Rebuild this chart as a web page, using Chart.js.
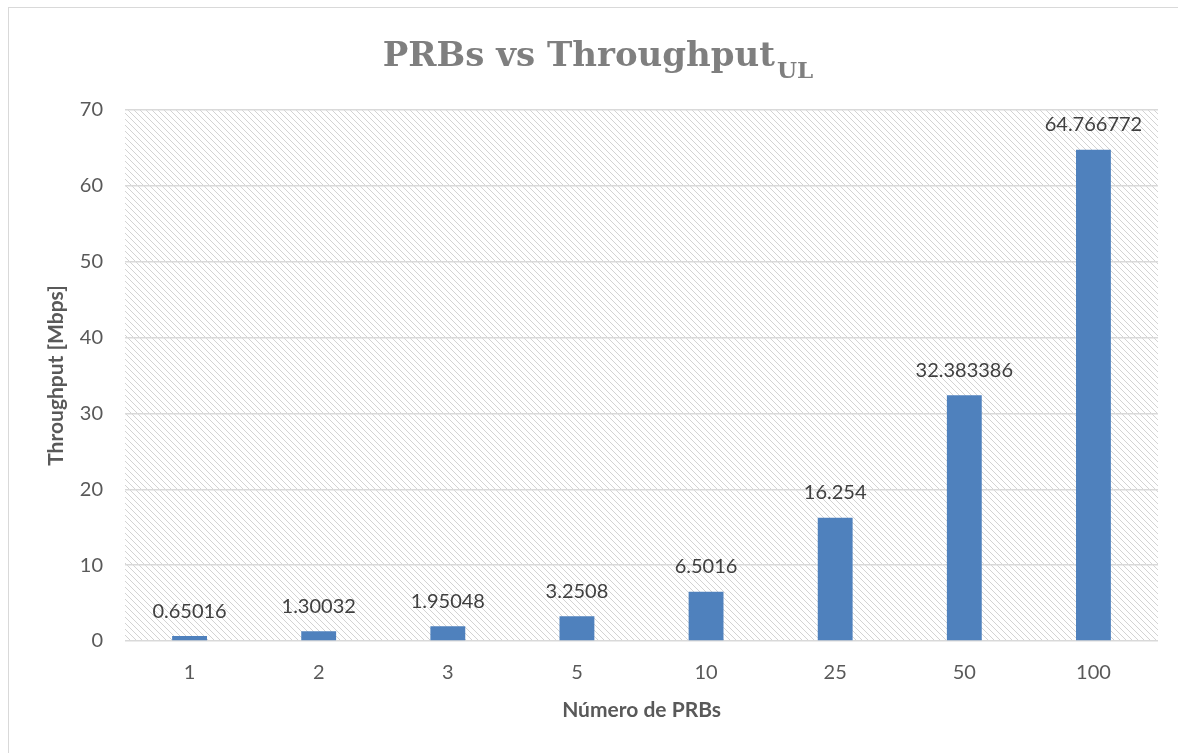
<!DOCTYPE html>
<html>
<head>
<meta charset="utf-8">
<script src="https://cdn.jsdelivr.net/npm/chart.js@4.4.0/dist/chart.umd.min.js"></script>
<style>
  html, body { margin: 0; padding: 0; background: #fff; overflow: hidden; }
  #wrap { position: relative; width: 1178px; height: 753px; }
  #frame { position: absolute; left: 8px; top: 7px; width: 1200px; height: 800px; border: 1px solid #d9d9d9; box-sizing: border-box; }
  canvas { position: absolute; left: 0; top: 0; }
</style>
</head>
<body>
<div id="wrap">
  <div id="frame"></div>
  <canvas id="chart" width="1178" height="753"></canvas>
</div>
<script>
// données
var categories = ['1', '2', '3', '5', '10', '25', '50', '100'];
var throughputValues = [0.65016, 1.30032, 1.95048, 3.2508, 6.5016, 16.254, 32.383386, 64.766772];
var valueLabels = ['0.65016', '1.30032', '1.95048', '3.2508', '6.5016', '16.254', '32.383386', '64.766772'];
var yTicks = [0, 10, 20, 30, 40, 50, 60, 70];

// motif hachuré du fond de la zone de tracé
function makeHatch() {
    var c = document.createElement('canvas');
    c.width = 6; c.height = 6;
    var g = c.getContext('2d');
    g.fillStyle = '#d3d3d3';
    for (var i = 0; i < 6; i++) {
        g.fillRect(i, i, 1, 1);
    }
    return g.createPattern(c, 'repeat');
}

var hatchPlugin = {
    id: 'hatch',
    beforeDraw: function(chart) {
        var a = chart.chartArea, ctx = chart.ctx;
        ctx.save();
        ctx.fillStyle = makeHatch();
        ctx.fillRect(a.left, a.top, a.right - a.left, a.bottom - a.top);
        ctx.restore();
    }
};

// titre avec indice "UL"
var titlePlugin = {
    id: 'titleSub',
    afterDraw: function(chart) {
        var ctx = chart.ctx;
        ctx.save();
        ctx.fillStyle = '#7f7f7f';
        ctx.textBaseline = 'alphabetic';
        ctx.font = 'bold 34px "DejaVu Serif"';
        var main = 'PRBs vs Throughput';
        var w1 = ctx.measureText(main).width;
        ctx.font = 'bold 23px "DejaVu Serif"';
        var w2 = ctx.measureText('UL').width;
        var total = w1 + 2 + w2;
        var x0 = 598 - total / 2;
        ctx.font = 'bold 34px "DejaVu Serif"';
        ctx.fillText(main, x0, 66);
        ctx.font = 'bold 23px "DejaVu Serif"';
        ctx.fillText('UL', x0 + w1 + 2, 78);
        ctx.restore();
    }
};

var labelPlugin = {
    id: 'barLabels',
    afterDatasetsDraw: function(chart) {
        var ctx = chart.ctx;
        var meta = chart.getDatasetMeta(0);
        ctx.save();
        ctx.font = '20px Lato';
        ctx.fillStyle = '#404040';
        ctx.textAlign = 'center';
        ctx.textBaseline = 'middle';
        meta.data.forEach(function(bar, i) {
            ctx.fillText(valueLabels[i], bar.x, bar.y - 25);
        });
        ctx.restore();
    }
};

var ctx = document.getElementById('chart').getContext('2d');
var chart = new Chart(ctx, {
    type: 'bar',
    data: {
        labels: categories,
        datasets: [{
            label: 'Throughput',
            data: throughputValues,
            backgroundColor: '#4f81bd',
            borderWidth: 0,
            categoryPercentage: 1,
            barPercentage: 0.27
        }]
    },
    options: {
        responsive: false,
        animation: false,
        layout: { padding: { left: 8, top: 110, right: 20, bottom: 0 } },
        plugins: {
            legend: { display: false },
            tooltip: { enabled: false }
        },
        scales: {
            x: {
                grid: { display: false },
                border: { display: false },
                ticks: { color: '#595959', font: { family: 'Lato', size: 20 }, padding: 12 },
                title: {
                    display: true, text: 'Número de PRBs', color: '#595959',
                    font: { family: 'Lato', size: 21, weight: 'bold' },
                    padding: { top: 0, bottom: 30 }
                },
                afterFit: function(s) { s.height = 112; }
            },
            y: {
                min: 0, max: 70,
                afterBuildTicks: function(s) { s.ticks = yTicks.map(function(v) { return { value: v }; }); },
                grid: { color: '#d9d9d9', lineWidth: 1.5, drawTicks: false },
                border: { display: false },
                ticks: { color: '#595959', font: { family: 'Lato', size: 20 }, padding: 22 },
                title: {
                    display: true, text: 'Throughput [Mbps]', color: '#595959',
                    font: { family: 'Lato', size: 21, weight: 'bold' },
                    padding: { top: 36, bottom: 0 }
                },
                afterFit: function(s) { s.width = 117; }
            }
        }
    },
    plugins: [hatchPlugin, labelPlugin, titlePlugin]
});
</script>
</body>
</html>
